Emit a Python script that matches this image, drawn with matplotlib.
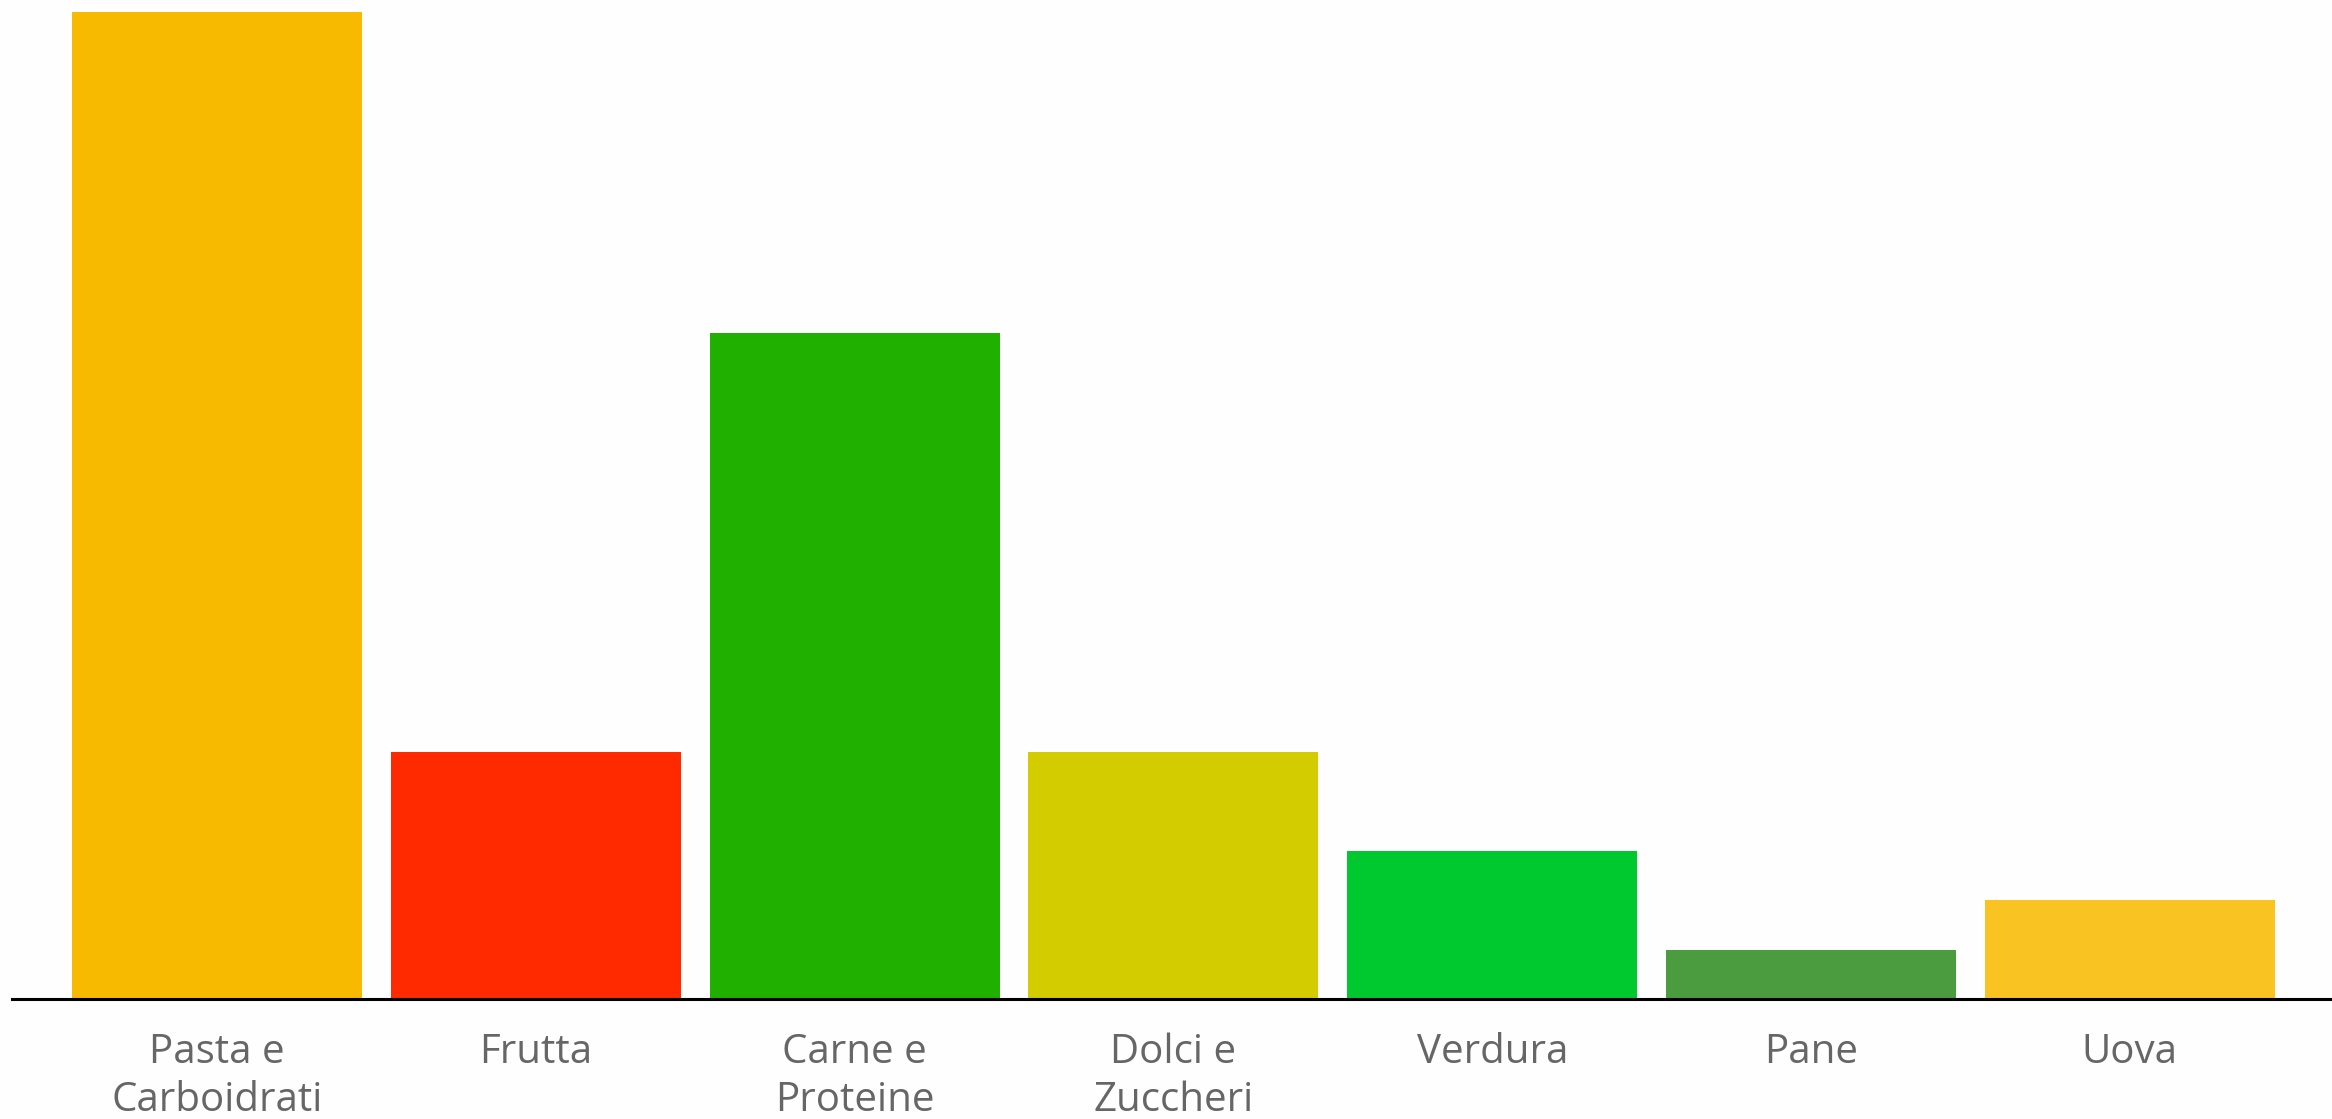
import matplotlib
matplotlib.use('Agg')
import matplotlib.pyplot as plt

# Dati del grafico
categorie = ['Pasta e\nCarboidrati', 'Frutta', 'Carne e\nProteine', 'Dolci e\nZuccheri',
             'Verdura', 'Pane', 'Uova']
valori = [40, 10, 27, 10, 6, 2, 4]
colori = ['#F7BA00', '#FF2A00', '#1FB000', '#D2CC00', '#00C92F', '#4A9C3E', '#F9C322']

fig = plt.figure(figsize=(23.32, 11.19), dpi=100)
fig.patch.set_facecolor('#FEFEFE')
ax = fig.add_axes([12 / 2332, 120 / 1119, 1 - 12 / 2332, 987 / 1119])
ax.set_facecolor('#FEFEFE')

x = range(len(categorie))
ax.bar(x, valori, width=0.91, color=colori)

ax.set_xlim(-0.643, 6.634)
ax.set_ylim(0, 40)
ax.set_xticks(list(x))
ax.set_xticklabels(categorie, fontsize=29, color='#666666', family=['Open Sans', 'DejaVu Sans'],
                   linespacing=1.26)
ax.tick_params(axis='x', length=0, pad=24)
ax.set_yticks([])

for lato in ['top', 'right', 'left']:
    ax.spines[lato].set_visible(False)
ax.spines['bottom'].set_linewidth(2.2)
ax.spines['bottom'].set_color('black')

fig.savefig('out.png', dpi=100, facecolor=fig.get_facecolor())
